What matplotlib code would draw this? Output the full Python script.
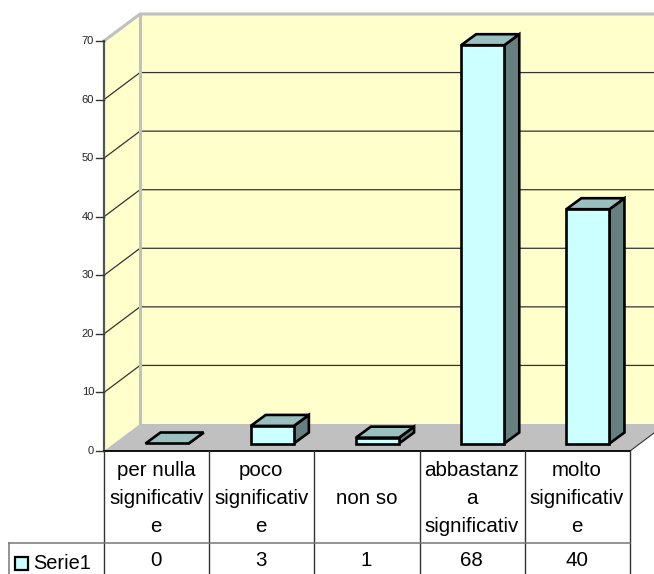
import matplotlib
matplotlib.use('Agg')
import matplotlib.pyplot as plt
from matplotlib.transforms import Affine2D, blended_transform_factory

categories = ["per nulla\nsignificativ\ne", "poco\nsignificativ\ne", "non so",
              "abbastanz\na\nsignificativ", "molto\nsignificativ\ne"]
values = [0, 3, 1, 68, 40]
series_name = "Serie1"
y_ticks = [0, 10, 20, 30, 40, 50, 60, 70]

FONT = "Liberation Sans"
WALL = "#FFFFCC"
FLOOR = "#C0C0C0"
FRONT = "#CCFFFF"
TOP = "#99BFBF"
SIDE = "#668080"

W, H = 654, 574
fig = plt.figure(figsize=(W / 100, H / 100), dpi=100)

# front plane of the chart, the data scale lives here
ax = fig.add_axes([104 / W, 1 - 451 / H, 526 / W, 410 / H])
ax.set_xlim(0, 5)
ax.set_ylim(0, 70)
ax.axis("off")

# pixel overlay for the table under the plot
tb = fig.add_axes([0, 0, 1, 1], zorder=3)
tb.set_xlim(0, W)
tb.set_ylim(H, 0)
tb.axis("off")
tb.patch.set_alpha(0)


def shifted(dx, dy):
    return ax.transData + Affine2D().translate(dx, dy)


back = shifted(36, 27)
x_end = len(values)
y_top = y_ticks[-1]

# walls and floor, corners cross-mixed from plain and shifted transforms
to_data = ax.transData.inverted()


def back_xy(x, y):
    return to_data.transform(back.transform((x, y)))


b00 = back_xy(0, 0)
b07 = back_xy(0, y_top)
b50 = back_xy(x_end, 0)
b57 = back_xy(x_end, y_top)

ax.fill([b00[0], b50[0], b57[0], b07[0]], [b00[1], b50[1], b57[1], b07[1]],
        color=WALL, lw=0, clip_on=False, zorder=1)
ax.fill([0, b00[0], b07[0], 0], [0, b00[1], b07[1], y_top],
        color=WALL, lw=0, clip_on=False, zorder=1)
ax.fill([0, x_end, b50[0], b00[0]], [0, 0, b50[1], b00[1]],
        color=FLOOR, lw=0, clip_on=False, zorder=1)

# gridlines on both walls
for t in y_ticks[1:-1]:
    p = back_xy(0, t)
    q = back_xy(x_end, t)
    ax.plot([0, p[0], q[0]], [t, p[1], q[1]], color="#333333", lw=0.9,
            clip_on=False, zorder=2)

# grey wall frame
ax.plot([0, b07[0], b57[0]], [y_top, b07[1], b57[1]], color=FLOOR, lw=2.2,
        clip_on=False, zorder=3, solid_joinstyle="miter")
ax.plot([b00[0], b07[0]], [b00[1], b07[1]], color=FLOOR, lw=2.2,
        clip_on=False, zorder=3)
ax.plot([x_end, b50[0]], [0, b50[1]], color="#333333", lw=0.8, clip_on=False, zorder=3)

# value axis
ax.plot([0, 0], [0, y_top], color="#555555", lw=1.6, clip_on=False, zorder=4)
ax.plot([0, x_end], [0, 0], color="black", lw=1.3, clip_on=False, zorder=4)
tick_tr = blended_transform_factory(tb.transData, ax.transData)
for t in y_ticks:
    ax.plot([96, 104], [t, t], color="#333333", lw=1, transform=tick_tr,
            clip_on=False, zorder=4)
    ax.text(94, t, str(t), transform=tick_tr, ha="right", va="center",
            fontsize=8, family=FONT, color="#222222")

# bars: front face plus side and top in the depth direction
bar_w = 0.41
base = shifted(10.5, 7.5)
bar_lw = 1.9
for i, v in enumerate(values):
    cx = i + 0.5
    l = cx - bar_w / 2
    r = cx + bar_w / 2
    pts = [to_data.transform(base.transform(c)) for c in [(l, 0), (r, 0), (r, v), (l, v)]]
    d = (to_data.transform((15, 11)) - to_data.transform((0, 0)))
    x0, y0 = pts[0]
    x1, y1 = pts[2]
    style = dict(edgecolor="black", lw=bar_lw, clip_on=False, zorder=5, joinstyle="miter")
    ax.fill([x1, x1 + d[0], x1 + d[0], x1], [y0, y0 + d[1], y1 + d[1], y1],
            facecolor=SIDE, **style)
    ax.fill([x0, x1, x1 + d[0], x0 + d[0]], [y1, y1, y1 + d[1], y1 + d[1]],
            facecolor=TOP, **style)
    if v > 0:
        ax.bar(cx, v, bar_w, facecolor=FRONT, edgecolor="black", linewidth=bar_lw,
               transform=base, clip_on=False, zorder=6)

# data table under the chart
row_top, row_mid, row_bot = 451, 543, 576
cell_tr = blended_transform_factory(ax.transData, tb.transData)
for i in range(len(values) + 1):
    tb.plot([i, i], [row_top, row_bot], color="#333333", lw=1, transform=cell_tr, clip_on=False)
tb.plot([9, 630], [row_mid, row_mid], color="#777777", lw=1.1)
tb.plot([9, 9], [row_mid, row_bot], color="#777777", lw=1.1)

line_gap = 28
for i, label in enumerate(categories):
    lines = label.split("\n")
    start = 498 - (len(lines) - 1) * line_gap / 2
    for j, line in enumerate(lines):
        tb.text(i + 0.495, start + j * line_gap, line, transform=cell_tr, ha="center",
                va="center", fontsize=14.8, family=FONT, color="black")
    tb.text(i + 0.495, 560, str(values[i]), transform=cell_tr, ha="center", va="center",
            fontsize=14.8, family=FONT, color="black")

# legend key and name in the first table cell
tb.fill([15, 28, 28, 15], [557, 557, 570, 570], facecolor=FRONT, edgecolor="black", lw=1.6)
tb.text(33.5, 563.5, series_name, ha="left", va="center", fontsize=14.4, family=FONT, color="black")

fig.savefig("out.png", dpi=100, facecolor="white")
plt.close(fig)
